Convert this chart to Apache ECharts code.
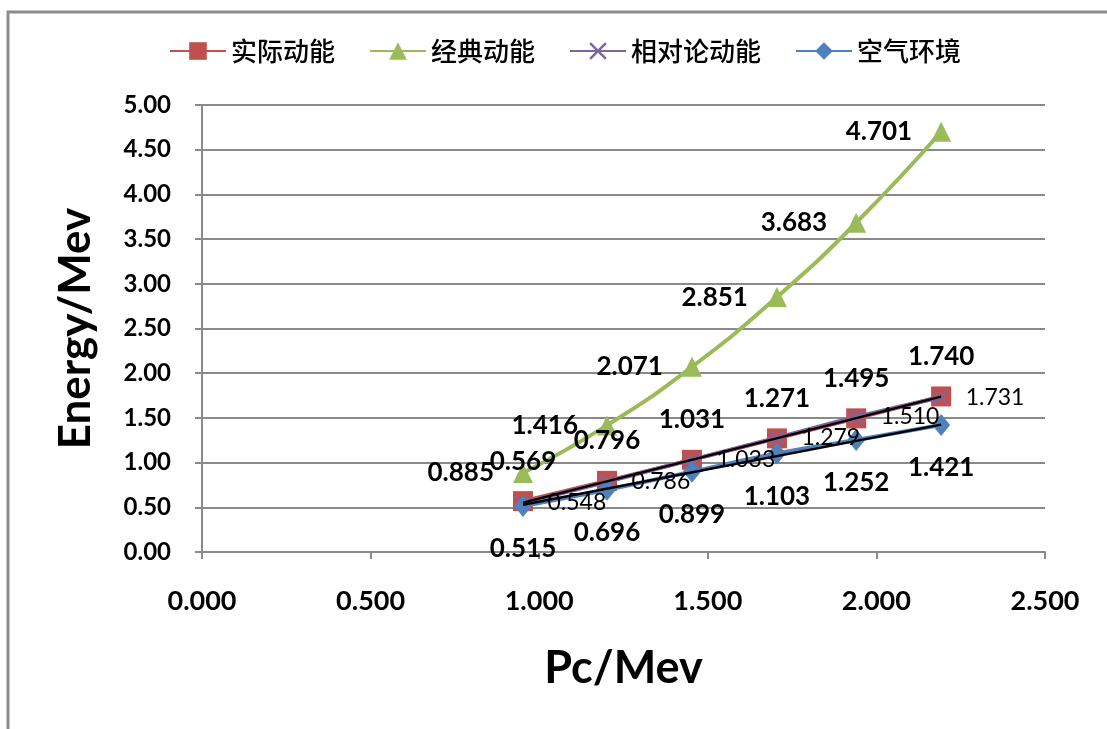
<!DOCTYPE html>
<html>
<head>
<meta charset="utf-8">
<title>Energy vs Pc</title>
<script src="https://cdn.jsdelivr.net/npm/echarts@6/dist/echarts.min.js"></script>
<style>
  html, body { margin: 0; padding: 0; background: #ffffff; }
  #chart { width: 1107px; height: 729px; }
</style>
</head>
<body>
<div id="chart"></div>
<script>
// Momentum (Pc, MeV) of each measurement
const pcValues = [0.952, 1.201, 1.453, 1.705, 1.940, 2.192];

// Kinetic energies (MeV)
const actualKE = [0.569, 0.796, 1.031, 1.271, 1.495, 1.740];
const classicKE = [0.885, 1.416, 2.071, 2.851, 3.683, 4.701];
const relativisticKE = [0.548, 0.786, 1.033, 1.279, 1.510, 1.731];
const airKE = [0.515, 0.696, 0.899, 1.103, 1.252, 1.421];

// Linear trend lines (end points)
const trendUpperPc = [0.952, 2.192];
const trendUpperE = [0.552, 1.738];
const trendLowerPc = [0.952, 2.192];
const trendLowerE = [0.528, 1.425];

const seriesNames = ['实际动能', '经典动能', '相对论动能', '空气环境'];

const zip = (xs, ys) => xs.map((x, i) => [x, ys[i]]);

const LATIN = 'Lato, "Open Sans", sans-serif';
const CJK = '"Noto Sans CJK SC", sans-serif';
const AXIS_GREY = '#8a8a8a';

const crossPath = 'path://M0,1L1,0L5,4L9,0L10,1L6,5L10,9L9,10L5,6L1,10L0,9L4,5Z';

const fmt3 = p => p.value[1].toFixed(3);

const chart = echarts.init(document.getElementById('chart'));

chart.setOption({
  backgroundColor: '#ffffff',
  animation: false,
  graphic: [{
    type: 'polyline',
    shape: { points: [[8, 729], [8, 12], [1107, 12]] },
    style: { stroke: '#8c8c8c', lineWidth: 3, fill: null },
    silent: true
  }],
  legend: {
    data: seriesNames,
    left: 164,
    top: 33,
    itemWidth: 56,
    itemHeight: 22,
    itemGap: 34,
    textStyle: { fontFamily: CJK, fontSize: 26, fontWeight: 500, color: '#000000' }
  },
  grid: { left: 202, right: 62, top: 105, bottom: 177, containLabel: false },
  xAxis: {
    type: 'value',
    min: 0, max: 2.5, interval: 0.5,
    name: 'Pc/Mev',
    nameLocation: 'middle',
    nameGap: 94,
    nameTextStyle: { fontFamily: LATIN, fontSize: 45, fontWeight: 'bold', color: '#000000' },
    axisLine: { show: true, lineStyle: { color: AXIS_GREY, width: 2 } },
    axisTick: { show: true, inside: false, length: 7, lineStyle: { color: AXIS_GREY, width: 2 } },
    splitLine: { show: false },
    axisLabel: {
      margin: 36,
      fontFamily: LATIN, fontSize: 27, fontWeight: 'bold', color: '#000000',
      formatter: v => v.toFixed(3)
    }
  },
  yAxis: {
    type: 'value',
    min: 0, max: 5, interval: 0.5,
    name: 'Energy/Mev',
    nameLocation: 'middle',
    nameGap: 104,
    nameTextStyle: { fontFamily: LATIN, fontSize: 44, fontWeight: 'bold', color: '#000000' },
    axisLine: { show: true, lineStyle: { color: AXIS_GREY, width: 2 } },
    axisTick: { show: true, inside: false, length: 7, lineStyle: { color: AXIS_GREY, width: 2 } },
    splitLine: { show: true, lineStyle: { color: AXIS_GREY, width: 2 } },
    axisLabel: {
      margin: 31,
      fontFamily: LATIN, fontSize: 24, fontWeight: 'bold', color: '#000000',
      formatter: v => v.toFixed(2)
    }
  },
  series: [
    {
      name: '实际动能',
      type: 'line',
      data: zip(pcValues, actualKE),
      smooth: true,
      symbol: 'rect', symbolSize: 20,
      lineStyle: { color: '#C0504D', width: 4 },
      itemStyle: { color: '#C0504D' },
      label: {
        show: true, position: 'top', distance: 17,
        fontFamily: LATIN, fontSize: 26, fontWeight: 'bold', color: '#000000',
        formatter: fmt3
      },
      z: 2
    },
    {
      name: '经典动能',
      type: 'line',
      data: zip(pcValues, classicKE),
      smooth: true,
      symbol: 'triangle', symbolSize: 20,
      lineStyle: { color: '#9BBB59', width: 4 },
      itemStyle: { color: '#9BBB59' },
      label: {
        show: true, position: 'left', distance: 19,
        fontFamily: LATIN, fontSize: 26, fontWeight: 'bold', color: '#000000',
        formatter: fmt3
      },
      z: 2
    },
    {
      name: '相对论动能',
      type: 'line',
      data: zip(pcValues, relativisticKE),
      smooth: true,
      symbol: crossPath, symbolSize: 15,
      lineStyle: { color: '#8064A2', width: 4 },
      itemStyle: { color: '#8064A2' },
      label: {
        show: true, position: 'right', distance: 17,
        fontFamily: LATIN, fontSize: 23, fontWeight: 'normal', color: '#000000',
        formatter: fmt3
      },
      z: 3
    },
    {
      name: '空气环境',
      type: 'line',
      data: zip(pcValues, airKE),
      smooth: true,
      symbol: 'diamond', symbolSize: [18, 22],
      lineStyle: { color: '#4F81BD', width: 4 },
      itemStyle: { color: '#4F81BD' },
      label: {
        show: true, position: 'bottom', distance: 19,
        fontFamily: LATIN, fontSize: 26, fontWeight: 'bold', color: '#000000',
        formatter: fmt3
      },
      z: 3
    },
    {
      name: 'trend-upper',
      type: 'line',
      data: zip(trendUpperPc, trendUpperE),
      symbol: 'none',
      silent: true,
      lineStyle: { color: '#000000', width: 2.5 },
      z: 4
    },
    {
      name: 'trend-lower',
      type: 'line',
      data: zip(trendLowerPc, trendLowerE),
      symbol: 'none',
      silent: true,
      lineStyle: { color: '#000000', width: 2.5 },
      z: 4
    }
  ]
});
</script>
</body>
</html>
